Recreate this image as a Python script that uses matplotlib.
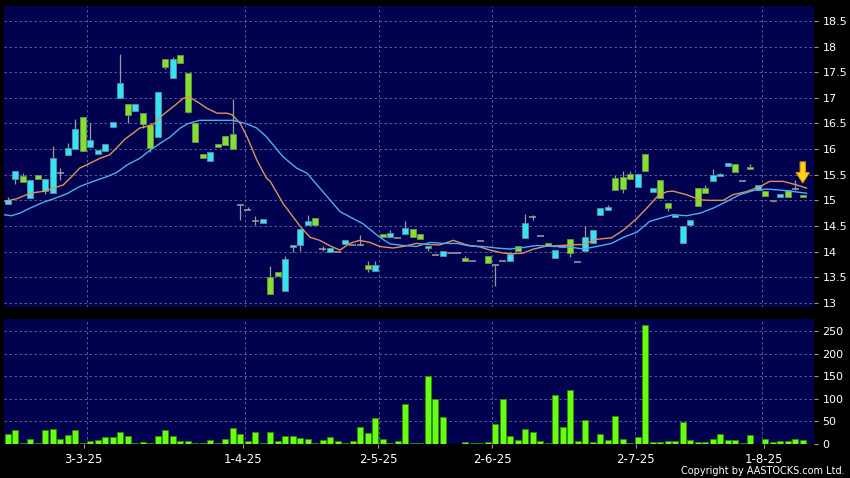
import numpy as np
import matplotlib
matplotlib.use('Agg')
import matplotlib.pyplot as plt
from matplotlib.patches import FancyArrow

# daily OHLC, one entry per trading day
opens = [14.93, 15.41, 15.48, 15.04, 15.49, 15.19, 15.14, 15.53, 15.88, 16.00,
         16.62, 16.04, 15.91, 15.96, 16.43, 16.99, 16.88, 16.75, 16.70, 16.47,
         16.24, 17.76, 17.38, 17.84, 17.49, 16.50, 15.90, 15.76, 16.09, 16.26,
         16.29, 14.90, 14.81, 14.59, 14.55, 13.51, 13.60, 13.23, 14.09, 14.12,
         14.51, 14.66, 14.06, 13.99, 13.99, 14.14, 14.13, 14.13, 13.74, 13.62,
         14.34, 14.28, 14.27, 14.34, 14.45, 14.34, 14.07, 13.93, 13.92, 13.97,
         13.97, 13.88, 13.81, 14.21, 13.92, 13.73, 13.81, 13.81, 14.10, 14.26,
         14.68, 14.30, 14.16, 13.87, 14.09, 14.25, 13.79, 14.02, 14.16, 14.72,
         14.81, 15.43, 15.45, 15.52, 15.26, 15.90, 15.17, 15.39, 14.94, 14.67,
         14.16, 14.51, 15.24, 15.25, 15.37, 15.48, 15.67, 15.70, 15.37, 15.65,
         15.20, 15.19, 15.01, 15.07, 15.20, 15.22, 15.10]
highs = [15.07, 15.58, 15.53, 15.40, 15.49, 15.41, 16.06, 15.63, 16.11, 16.59,
         16.62, 16.50, 15.98, 16.10, 16.52, 17.86, 16.88, 16.88, 16.70, 16.47,
         17.12, 17.76, 17.79, 17.84, 17.49, 16.50, 15.90, 15.94, 16.09, 16.26,
         16.98, 14.90, 14.87, 14.70, 14.63, 13.71, 13.60, 13.92, 14.12, 14.45,
         14.72, 14.66, 14.10, 14.07, 13.99, 14.22, 14.13, 14.33, 13.81, 13.82,
         14.34, 14.42, 14.27, 14.59, 14.45, 14.34, 14.11, 13.93, 14.02, 13.97,
         13.97, 13.91, 13.81, 14.21, 13.92, 13.73, 13.81, 13.95, 14.10, 14.73,
         14.71, 14.30, 14.16, 14.03, 14.09, 14.25, 13.79, 14.50, 14.42, 14.85,
         14.91, 15.50, 15.58, 15.58, 15.52, 15.90, 15.24, 15.39, 14.94, 14.72,
         14.50, 14.62, 15.24, 15.30, 15.61, 15.54, 15.72, 15.70, 15.37, 15.71,
         15.30, 15.19, 15.01, 15.12, 15.20, 15.40, 15.10]
lows = [14.93, 15.31, 15.35, 15.04, 15.41, 15.12, 15.14, 15.39, 15.88, 16.00,
        15.97, 16.04, 15.91, 15.96, 16.43, 16.99, 16.50, 16.75, 16.41, 15.95,
        16.24, 17.56, 17.38, 17.68, 16.70, 16.13, 15.82, 15.76, 16.04, 16.07,
        16.00, 14.61, 14.81, 14.51, 14.55, 13.18, 13.53, 13.23, 14.00, 14.02,
        14.51, 14.51, 14.02, 13.99, 13.99, 14.14, 14.13, 14.13, 13.61, 13.62,
        14.28, 14.28, 14.27, 14.34, 14.28, 14.25, 14.02, 13.93, 13.92, 13.97,
        13.97, 13.81, 13.81, 14.21, 13.77, 13.32, 13.81, 13.81, 14.02, 14.26,
        14.62, 14.30, 14.11, 13.87, 14.09, 13.89, 13.79, 14.02, 14.16, 14.72,
        14.81, 15.20, 15.14, 15.41, 15.26, 15.58, 15.17, 15.04, 14.80, 14.67,
        14.16, 14.51, 14.89, 15.14, 15.37, 15.48, 15.67, 15.56, 15.37, 15.61,
        15.20, 15.09, 14.96, 15.07, 15.07, 15.20, 15.06]
closes = [15.00, 15.58, 15.35, 15.40, 15.41, 15.41, 15.82, 15.53, 16.03, 16.40,
          15.97, 16.17, 15.98, 16.10, 16.52, 17.28, 16.66, 16.88, 16.49, 16.02,
          17.12, 17.61, 17.75, 17.68, 16.72, 16.13, 15.82, 15.94, 16.04, 16.07,
          16.00, 14.90, 14.81, 14.59, 14.63, 13.18, 13.53, 13.85, 14.12, 14.45,
          14.59, 14.51, 14.06, 14.07, 13.99, 14.22, 14.13, 14.13, 13.66, 13.73,
          14.28, 14.36, 14.27, 14.46, 14.28, 14.25, 14.11, 13.93, 14.02, 13.97,
          13.97, 13.81, 13.81, 14.21, 13.77, 13.73, 13.81, 13.95, 14.02, 14.55,
          14.68, 14.30, 14.11, 14.03, 14.09, 13.97, 13.79, 14.28, 14.42, 14.85,
          14.87, 15.20, 15.22, 15.41, 15.52, 15.58, 15.24, 15.04, 14.86, 14.72,
          14.50, 14.62, 14.89, 15.14, 15.50, 15.51, 15.72, 15.56, 15.37, 15.61,
          15.30, 15.09, 14.98, 15.12, 15.07, 15.22, 15.06]

# volume ('000 shares)
volumes = [21, 31, 1, 10, 2, 30, 33, 9, 20, 31,
           2, 6, 7, 14, 14, 25, 17, 0.5, 3, 1,
           16, 29, 16, 6, 6.5, 1, 2, 8, 2, 10,
           34, 21, 5, 25, 2, 26, 5, 16, 17, 13,
           9, 2, 7, 14, 4.5, 1, 4.5, 36, 24, 56,
           10, 2, 5, 88, 2, 0.5, 150, 100, 59, 0,
           0, 3.5, 0.5, 2, 4, 44, 100, 16, 8, 32,
           25, 5, 2, 108, 37, 119, 4.5, 53, 2.5, 21,
           7, 62, 10, 1, 14, 264, 3, 3, 4.5, 4.5,
           48, 7, 2.5, 3, 9, 21, 7, 8, 0.5, 19,
           0, 11, 4, 5, 5, 10, 7]

# moving averages (day position, price)
ma_fast_x = [-0.5, 1.2, 3.0, 5.0, 6.1, 7.4, 8.5, 9.6, 10.5, 12.3, 13.6, 14.5,
             15.6, 16.7, 17.6, 18.5, 19.6, 20.7, 22.1, 23.4, 24.1, 25.2, 26.5,
             27.9, 29.2, 29.9, 31.0, 31.9, 33.2, 34.5, 35.0, 36.7, 39.0, 40.3,
             41.6, 43.0, 44.3, 45.6, 46.9, 48.3, 49.6, 51.4, 52.7, 54.5, 55.9,
             57.6, 59.4, 61.2, 63.0, 64.3, 66.1, 67.4, 68.7, 70.1, 71.9, 72.7,
             75.0, 76.7, 78.5, 80.5, 82.1, 83.9, 85.6, 86.7, 87.9, 88.7, 90.5,
             92.3, 93.6, 95.4, 96.7, 98.5, 100.3, 101.6, 103.4, 105.2, 106.5]
ma_fast = [14.98, 15.03, 15.14, 15.18, 15.24, 15.30, 15.46, 15.63, 15.69, 15.82,
           15.89, 16.02, 16.19, 16.31, 16.41, 16.44, 16.50, 16.67, 16.83, 16.99,
           17.02, 16.93, 16.80, 16.70, 16.70, 16.67, 16.50, 16.24, 15.79, 15.43,
           15.37, 14.94, 14.49, 14.28, 14.22, 14.11, 14.03, 14.16, 14.22, 14.18,
           14.10, 14.07, 14.10, 14.16, 14.14, 14.13, 14.22, 14.13, 14.09, 14.03,
           13.97, 13.96, 13.97, 14.05, 14.11, 14.11, 14.13, 14.14, 14.24, 14.27,
           14.42, 14.65, 14.91, 15.09, 15.17, 15.18, 15.11, 15.01, 15.00, 15.00,
           15.11, 15.17, 15.27, 15.37, 15.37, 15.30, 15.24]
ma_slow_x = [-0.5, 0.5, 1.6, 3.0, 4.7, 6.1, 7.9, 9.6, 11.4, 13.2, 14.5, 15.9,
             17.6, 19.0, 20.3, 21.6, 23.0, 24.1, 25.6, 27.9, 30.1, 31.9, 33.2,
             34.5, 35.0, 36.7, 38.5, 39.9, 41.6, 44.3, 47.4, 49.6, 51.0, 52.7,
             54.5, 56.3, 58.1, 59.9, 61.6, 63.4, 65.2, 67.0, 68.7, 70.5, 72.7,
             75.0, 76.7, 78.5, 80.5, 82.1, 83.9, 85.6, 87.0, 88.7, 90.5, 92.3,
             94.1, 95.9, 97.6, 99.4, 101.2, 103.0, 104.8, 106.5]
ma_slow = [14.72, 14.70, 14.75, 14.85, 14.96, 15.03, 15.13, 15.27, 15.37, 15.46,
           15.54, 15.69, 15.82, 15.98, 16.11, 16.23, 16.41, 16.50, 16.56, 16.56,
           16.56, 16.49, 16.41, 16.24, 16.15, 15.85, 15.63, 15.53, 15.24, 14.78,
           14.54, 14.28, 14.15, 14.12, 14.10, 14.18, 14.16, 14.16, 14.11, 14.10,
           14.07, 14.05, 14.08, 14.12, 14.10, 14.09, 14.05, 14.10, 14.16, 14.28,
           14.38, 14.59, 14.65, 14.72, 14.70, 14.75, 14.85, 14.98, 15.11, 15.19,
           15.22, 15.20, 15.17, 15.14]

date_labels = ['3-3-25', '1-4-25', '2-5-25', '2-6-25', '2-7-25', '1-8-25']
date_ticks = [10.1, 31.3, 49.4, 64.6, 83.7, 100.8]
date_grid = [10.5, 31.6, 49.5, 64.5, 83.6, 100.5]

BG = '#01024f'
CYAN = '#33e4f2'
GREEN = '#82e12a'
GRID = '#6a6a9c'

W, H = 850, 478
fig = plt.figure(figsize=(W / 100, H / 100), dpi=100, facecolor='black')
ax = fig.add_axes([4 / W, 1 - 307 / H, 810 / W, 301 / H])
axv = fig.add_axes([4 / W, 1 - 443.5 / H, 810 / W, 124.5 / H], sharex=ax)

o, h, l, c = (np.array(a) for a in (opens, highs, lows, closes))
x = np.arange(len(o))
up = c > o
down = c < o
flat = c == o

# price panel
ax.vlines(x, l, h, color='#9a9a9a', lw=0.9, zorder=2)
ax.bar(x[up], (c - o)[up], bottom=o[up], width=0.85, color=CYAN,
       edgecolor='#5f8e9c', lw=0.6, zorder=3)
ax.bar(x[down], (o - c)[down], bottom=c[down], width=0.85, color=GREEN,
       edgecolor='#6f8f5a', lw=0.6, zorder=3)
ax.hlines(o[flat], x[flat] - 0.45, x[flat] + 0.45, color='#a0a0a0', lw=1.1, zorder=3)

ax.plot(ma_fast_x, ma_fast, color='#e0905c', lw=1.0, zorder=4)
ax.plot(ma_slow_x, ma_slow, color='#4aaef0', lw=1.0, zorder=4)

# marker for the latest session
tip = h[-1] + 0.24
ax.add_patch(FancyArrow(x[-1], tip + 0.41, 0, -0.41, width=0.7, head_width=1.75,
                        head_length=0.2, length_includes_head=True,
                        facecolor='#ffd21c', edgecolor='#e89a00', lw=0.8, zorder=6))

ax.set_xlim(-0.5, 107.5)
ax.set_ylim(12.92, 18.79)
ax.set_yticks(np.arange(13, 18.51, 0.5))
ax.yaxis.set_major_formatter(matplotlib.ticker.FormatStrFormatter('%g'))

# volume panel
axv.bar(x, volumes, width=0.85, color='#66ff11', edgecolor='#2f8f00', lw=0.6, zorder=3)
axv.set_ylim(0, 277)
axv.set_yticks(np.arange(0, 251, 50))

for a in (ax, axv):
    a.set_facecolor(BG)
    for s in a.spines.values():
        s.set_visible(False)
    a.yaxis.tick_right()
    a.tick_params(axis='y', colors='#9a9a9a', labelcolor='white', labelsize=8,
                  length=3, pad=3)
    a.set_xticks(date_ticks)
    a.set_xticks(date_grid, minor=True)
    a.tick_params(axis='x', which='minor', length=0)
    a.grid(True, axis='y', color=GRID, lw=0.6, ls=(0, (3, 3)))
    a.grid(True, axis='x', which='minor', color=GRID, lw=0.6, ls=(0, (3, 3)))
    a.set_axisbelow(True)

ax.tick_params(axis='x', which='major', length=0, labelbottom=False)
axv.set_xticklabels(date_labels)
axv.tick_params(axis='x', which='major', colors='#9a9a9a', labelcolor='white',
                labelsize=8.5, length=3, pad=4)

fig.text(845 / W, 1 - 471 / H, 'Copyright by AASTOCKS.com Ltd.', ha='right',
         va='center', fontsize=7, color='white')

fig.savefig('out.png', dpi=100, facecolor='black')
